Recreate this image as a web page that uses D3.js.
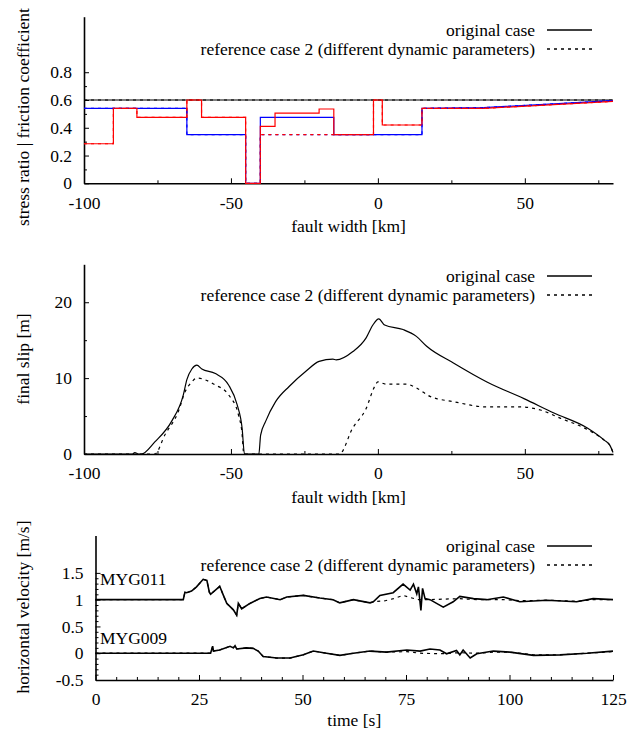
<!DOCTYPE html>
<html>
<head>
<meta charset="utf-8">
<script src="https://cdn.jsdelivr.net/npm/d3@7"></script>
<style>
  body { margin: 0; background: #fff; }
  svg { font-family: "Liberation Serif", "Times New Roman", serif; font-size: 17.5px; }
</style>
</head>
<body>
<div id="chart"></div>
<script>
"use strict";

// ---- panel 1: stress ratio / friction coefficient (step profiles along fault)
var blueSolidKm = [-100, -65, -65, -45, -45, -40, -40, -15, -15, 15, 15, 36, 80];
var blueSolidVal = [0.54, 0.54, 0.35, 0.35, 0, 0, 0.475, 0.475, 0.35, 0.35, 0.54, 0.545, 0.595];
var blueDashKm = [-100, -65, -65, -45, -45, -40, -40, 15, 15, 36, 80];
var blueDashVal = [0.54, 0.54, 0.35, 0.35, 0, 0, 0.35, 0.35, 0.54, 0.545, 0.595];
var redSolidKm = [-100, -90, -90, -82, -82, -65, -65, -60, -60, -45, -45, -40, -40, -35, -35, -20, -20, -15, -15, -1.5, -1.5, 1.5, 1.5, 15, 15, 36, 80];
var redSolidVal = [0.285, 0.285, 0.54, 0.54, 0.475, 0.475, 0.6, 0.6, 0.475, 0.475, 0, 0, 0.41, 0.41, 0.505, 0.505, 0.535, 0.535, 0.35, 0.35, 0.6, 0.6, 0.42, 0.42, 0.54, 0.54, 0.59];
var redDashKm = [-100, -90, -90, -82, -82, -65, -65, -60, -60, -45, -45, -40, -40, -1.5, -1.5, 1.5, 1.5, 15, 15, 36, 80];
var redDashVal = [0.285, 0.285, 0.54, 0.54, 0.475, 0.475, 0.6, 0.6, 0.475, 0.475, 0, 0, 0.35, 0.35, 0.6, 0.6, 0.42, 0.42, 0.54, 0.54, 0.59];
var frictionKm = [-100, 80];
var frictionVal = [0.6, 0.6];

// ---- panel 2: final slip
var slipOrigKm = [-100, -83.5, -82.7, -81.5, -80.5, -75.9, -70.2, -66.2, -65, -63.3, -61.6, -59.9, -55.3, -50.8, -47.9, -46.2, -45.4,
  -40.5, -39.9, -38.2, -34.8, -30.2, -24.5, -20, -15.3, -14.2, -8.5, -4, -1.7, 0.3, 2.3, 8.6, 13.1, 16.6, 25.7, 37.1, 49.7, 59.9, 71.4, 77.1, 79, 80];
var slipOrig = [0, 0, 0.2, 0, 0, 1.6, 4.3, 7.8, 9.8, 11.2, 11.7, 11.2, 10.6, 9.1, 6.5, 3.4, 0,
  0, 2.5, 4.3, 6.9, 8.9, 10.9, 12.2, 12.5, 12.4, 13.5, 15.3, 17, 17.8, 17, 16.4, 15.5, 14.2, 12, 9.5, 7.3, 5.4, 3.4, 1.8, 1.1, 0.2];
var slipRefKm = [-100, -75.9, -72.5, -67.9, -65.6, -63.3, -61.6, -55.3, -50.8, -47.4, -46.3, -45.6,
  -13.1, -8.6, -4, -1.1, 0, 2.9, 9.7, 13.1, 17.7, 25.7, 37.1, 48.5, 55.3, 62.2, 71.4, 77.1, 79, 80];
var slipRef = [0, 0, 2.5, 5.6, 8.2, 9.5, 10, 9.1, 7.8, 5.1, 3, 0,
  0, 3.4, 6, 8.9, 9.5, 9.2, 9.2, 8.7, 7.6, 6.9, 6.2, 6.2, 5.8, 4.7, 3.2, 1.8, 1.1, 0.2];

// ---- panel 3: horizontal velocity at two stations (MYG011 offset by 1)
var vel011T = [0, 21.2, 21.6, 22, 23.2, 24.4, 26, 26.9, 27.5, 27.8, 30, 30.9, 31.7, 33.3, 34.1, 34.5, 35.3, 37.3, 39.7, 41.3,
  44.6, 46.2, 50.2, 54.2, 57.4, 59, 62.3, 66.3, 67.1, 68.7, 71.9, 74.3, 76, 76.8, 77.6, 78, 78.6, 79, 79.6, 80.8,
  84, 86.4, 88, 91.3, 94.5, 98.5, 102.5, 109, 116.2, 120.2, 125];
var vel011 = [1, 1, 1.14, 1.13, 1.16, 1.24, 1.38, 1.36, 1.14, 1.1, 1.25, 1.08, 0.93, 0.81, 0.71, 0.93, 0.83, 0.93, 1.02, 1.05,
  1.0, 1.05, 1.08, 1.03, 1.0, 0.94, 1.0, 0.94, 0.96, 1.08, 1.13, 1.29, 1.18, 1.29, 1.11, 1.24, 0.8, 1.21, 1.02, 1.0,
  0.86, 0.96, 1.06, 1.02, 1.0, 1.05, 0.96, 0.99, 0.96, 1.02, 1.0];
var ref011T = vel011T.slice(0, 28).concat([67.1, 70, 72, 74.3, 76, 78, 80.8, 84, 88, 92, 98.5, 102.5, 109, 116.2, 120.2, 125]);
var ref011 = vel011.slice(0, 28).concat([0.96, 0.98, 1.02, 1.08, 1.04, 1.0, 1.0, 1.01, 1.02, 1.0, 1.0, 0.98, 0.99, 0.97, 1.0, 1.0]);

var vel009T = [0, 27.8, 28.3, 28.5, 30, 32.5, 33.3, 33.7, 34.1, 36.5, 38.1, 39.3, 40.5, 43.8, 47, 50.2, 52.6, 55.8, 59, 62.3,
  66.3, 70.3, 75.2, 78.4, 80.8, 83.2, 84.8, 87.2, 88, 88.8, 90.5, 92.1, 96.1, 100.1, 105.8, 112.2, 118.7, 125];
var vel009 = [0, 0, 0.13, 0.04, 0.06, 0.13, 0.1, 0.14, 0.08, 0.1, 0.09, 0.04, -0.06, -0.09, -0.09, -0.03, 0.04, 0, -0.04, 0,
  0.04, 0.02, 0.06, 0.04, 0.08, 0.06, -0.01, 0.05, -0.03, 0.06, -0.09, -0.01, 0.04, 0.02, -0.04, -0.03, 0, 0.04];
var ref009T = vel009T.slice(0, 21).concat([70.3, 75.2, 78.4, 83.2, 88, 92.1, 96.1, 100.1, 105.8, 112.2, 118.7, 125]);
var ref009 = vel009.slice(0, 21).concat([0.02, 0.03, 0.0, -0.01, 0.01, 0, 0.02, 0.02, -0.03, -0.03, 0, 0.03]);

// ---- labels and ticks
var legendLabels = ["original case", "reference case 2 (different dynamic parameters)"];
var faultTicks = [-100, -50, 0, 50];
var faultMinor = [-75, -25, 25, 75];
var stressTicks = [0, 0.2, 0.4, 0.6, 0.8];
var stressMinor = [0.1, 0.3, 0.5, 0.7];
var slipTicks = [0, 10, 20];
var slipMinor = [5, 15];
var timeTicks = [0, 25, 50, 75, 100, 125];
var velTicks = [-0.5, 0, 0.5, 1, 1.5];
var stationLabels = [{ name: "MYG011", v: 1.5 }, { name: "MYG009", v: 0.4 }];

var W = 640, H = 736;
var DASH = "3,4";

var svg = d3.select("#chart").append("svg")
  .attr("width", W)
  .attr("height", H);

function makePanel(opt) {
  var x = d3.scaleLinear().domain(opt.xDomain).range([opt.left, opt.right]);
  var y = d3.scaleLinear().domain(opt.yDomain).range([opt.bottom, opt.top]);
  var g = svg.append("g");

  // minor ticks
  g.append("g")
    .attr("transform", "translate(0," + opt.bottom + ")")
    .call(d3.axisBottom(x).tickValues(opt.xMinor).tickSizeInner(-3).tickSizeOuter(0).tickFormat(""))
    .call(function(a) { a.select(".domain").remove(); });
  g.append("g")
    .attr("transform", "translate(" + opt.left + ",0)")
    .call(d3.axisLeft(y).tickValues(opt.yMinor).tickSizeInner(-3).tickSizeOuter(0).tickFormat(""))
    .call(function(a) { a.select(".domain").remove(); });

  // major ticks
  var xa = g.append("g")
    .attr("transform", "translate(0," + opt.bottom + ")")
    .call(d3.axisBottom(x).tickValues(opt.xTicks).tickSizeInner(-5).tickSizeOuter(0).tickPadding(13)
      .tickFormat(function(d) { return String(d); }));
  var ya = g.append("g")
    .attr("transform", "translate(" + opt.left + ",0)")
    .call(d3.axisLeft(y).tickValues(opt.yTicks).tickSizeInner(-5).tickSizeOuter(0).tickPadding(12)
      .tickFormat(function(d) { return String(d); }));

  [xa, ya].forEach(function(a) {
    a.attr("font-family", null).attr("font-size", null);
    a.selectAll("text").attr("fill", "#000");
    a.select(".domain").attr("stroke-width", 1.6);
  });

  g.append("text")
    .attr("x", (opt.left + opt.right) / 2)
    .attr("y", opt.bottom + opt.xTitleGap)
    .attr("text-anchor", "middle")
    .text(opt.xTitle);

  g.append("text")
    .attr("transform", "translate(" + 29 + "," + opt.yTitleMid + ") rotate(-90)")
    .attr("text-anchor", "middle")
    .text(opt.yTitle);

  // legend
  legendLabels.forEach(function(lab, i) {
    var ly = opt.legendY + i * 19;
    g.append("text")
      .attr("x", 535)
      .attr("y", ly + 5.5)
      .attr("text-anchor", "end")
      .text(lab);
    g.append("line")
      .attr("x1", 547).attr("x2", 592)
      .attr("y1", ly).attr("y2", ly)
      .attr("stroke", "#000")
      .attr("stroke-width", 1.3)
      .attr("stroke-dasharray", i === 1 ? DASH : null);
  });

  return { g: g, x: x, y: y };
}

function drawLine(p, xs, ys, color, dashed, width, curve) {
  var pts = xs.map(function(d, i) { return [d, ys[i]]; });
  var line = d3.line()
    .x(function(d) { return p.x(d[0]); })
    .y(function(d) { return p.y(d[1]); })
    .curve(curve || d3.curveLinear);
  p.g.append("path")
    .datum(pts)
    .attr("d", line)
    .attr("fill", "none")
    .attr("stroke", color)
    .attr("stroke-width", width || 1.2)
    .attr("stroke-dasharray", dashed ? DASH : null);
}

// ---- panel 1
var p1 = makePanel({
  xDomain: [-100, 80], yDomain: [0, 1.2],
  left: 84, right: 613, top: 16.7, bottom: 183.3,
  xTicks: faultTicks, xMinor: faultMinor, yTicks: stressTicks, yMinor: stressMinor,
  xTitle: "fault width [km]", xTitleGap: 49,
  yTitle: "stress ratio | friction coefficient", yTitleMid: 117,
  legendY: 30
});
drawLine(p1, frictionKm, frictionVal, "#000", false, 1.2);
drawLine(p1, frictionKm, frictionVal, "#000", true, 1.2);
drawLine(p1, blueSolidKm, blueSolidVal, "#0000ff", false, 1.2);
drawLine(p1, redSolidKm, redSolidVal, "#ff0000", false, 1.2);
drawLine(p1, blueDashKm, blueDashVal, "#0000ff", true, 1.2);
drawLine(p1, redDashKm, redDashVal, "#ff0000", true, 1.2);

// ---- panel 2
var p2 = makePanel({
  xDomain: [-100, 80], yDomain: [0, 25],
  left: 84, right: 613, top: 264.3, bottom: 454,
  xTicks: faultTicks, xMinor: faultMinor, yTicks: slipTicks, yMinor: slipMinor,
  xTitle: "fault width [km]", xTitleGap: 49,
  yTitle: "final slip [m]", yTitleMid: 359,
  legendY: 276
});
drawLine(p2, slipOrigKm, slipOrig, "#000", false, 1.2, d3.curveMonotoneX);
drawLine(p2, slipRefKm, slipRef, "#000", true, 1.2, d3.curveMonotoneX);

// ---- panel 3
var p3 = makePanel({
  xDomain: [0, 125], yDomain: [-0.5, 2.2],
  left: 95.5, right: 613, top: 535.4, bottom: 680,
  xTicks: timeTicks,
  xMinor: d3.range(5, 125, 5).filter(function(d) { return d % 25 !== 0; }),
  yTicks: velTicks,
  yMinor: d3.range(-4, 15).filter(function(d) { return d % 5 !== 0; }).map(function(d) { return d / 10; }),
  xTitle: "time [s]", xTitleGap: 46,
  yTitle: "horizontal velocity [m/s]", yTitleMid: 607,
  legendY: 546
});
drawLine(p3, vel011T, vel011, "#000", false, 1.6);
drawLine(p3, ref011T, ref011, "#000", true, 1.2);
drawLine(p3, vel009T, vel009, "#000", false, 1.6);
drawLine(p3, ref009T, ref009, "#000", true, 1.2);

stationLabels.forEach(function(s) {
  p3.g.append("text")
    .attr("x", p3.x(0) + 4.5)
    .attr("y", p3.y(s.v) + 11.7)
    .text(s.name);
});
</script>
</body>
</html>
